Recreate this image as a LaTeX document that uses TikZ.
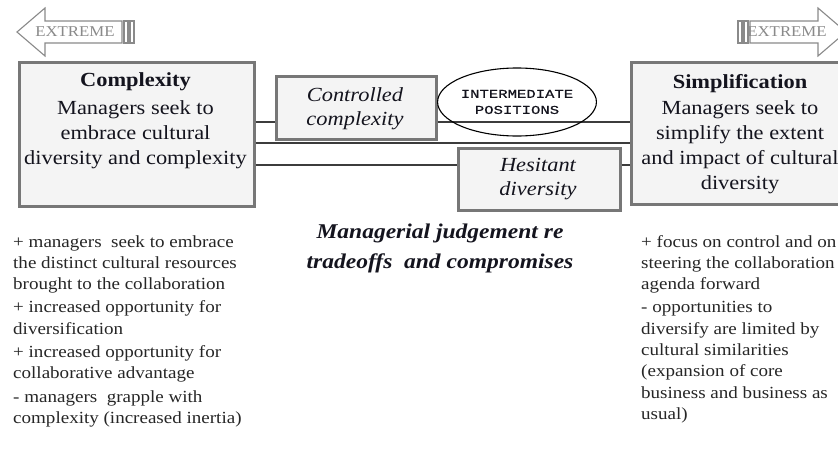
\documentclass[tikz,border=0pt]{standalone}
\usepackage{fontspec}
\setmainfont{Liberation Serif}[FakeStretch=1.12]
\newfontfamily\posfont{Liberation Mono}[FakeStretch=1.3,FakeBold=0.6]
\usetikzlibrary{shapes.geometric}

\definecolor{frame}{HTML}{777777}
\definecolor{boxfill}{HTML}{F4F4F4}
\definecolor{wire}{HTML}{3C3C3C}
\definecolor{ink}{HTML}{14141E}
\definecolor{notes}{HTML}{262626}
\definecolor{arrowgray}{HTML}{8A8A8A}

\begin{document}
\begin{tikzpicture}[x=1pt,y=-1pt,
  panel/.style={draw=frame, line width=2.6pt, fill=boxfill, inner sep=0pt, anchor=north west},
  % multi-line texts are placed by the baseline of their last line
  paneltext/.style={anchor=base, align=center, inner sep=0pt, text=ink,
    font=\fontsize{20}{25}\selectfont},
  italictext/.style={anchor=base, align=center, inner sep=0pt, text=ink,
    font=\fontsize{20}{24}\selectfont\itshape},
  notetext/.style={anchor=base west, align=left, inner sep=0pt, text=notes,
    font=\fontsize{17}{21.3}\selectfont},
  wire/.style={draw=wire, line width=1.6pt},
  extremearrow/.style={draw=arrowgray, line width=1.1pt, fill=white, line join=miter},
  extremelabel/.style={inner sep=0pt, text=arrowgray, font=\fontsize{15}{15}\selectfont}
]
\useasboundingbox (0,0) rectangle (838,450);

% "extreme" arrows at the two ends of the scale
\draw[extremearrow] (17,32) -- (45,8) -- (45,21) -- (122,21) -- (122,43) -- (45,43) -- (45,56) -- cycle;
\draw[extremearrow] (124,21) rectangle (128,43);
\draw[extremearrow] (130,21) rectangle (134,43);
\node[extremelabel] (extl) at (75,32) {EXTREME};

\draw[extremearrow] (750,21) -- (818,21) -- (818,8) -- (846,32) -- (818,56) -- (818,43) -- (750,43) -- cycle;
\draw[extremearrow] (738,21) rectangle (742,43);
\draw[extremearrow] (744,21) rectangle (748,43);
\node[extremelabel] (extr) at (787,32) {EXTREME};

% main boxes
\node[panel, minimum width=235pt, minimum height=144pt] (cx) at (18,61) {};
\node[panel, minimum width=232pt, minimum height=142pt] (simp) at (630,61) {};
\node[panel, minimum width=160pt, minimum height=63pt] (ctrl) at (275,75) {};
\node[panel, minimum width=162pt, minimum height=62pt] (hes) at (457,147) {};

\node[paneltext] (cxt) at (135.5,164) {{\bfseries Complexity}\\[3pt]
  Managers seek to\\ embrace cultural\\ diversity and complexity};
\node[paneltext] (simpt) at (740,189) {{\bfseries Simplification}\\[1pt]
  Managers seek to\\ simplify the extent\\ and impact of cultural\\ diversity};
\node[italictext] (ctrlt) at (355,125) {Controlled\\ complexity};
\node[italictext] (hest) at (538,195) {Hesitant\\ diversity};

% connectors between the positions
\coordinate (r1) at (0,122);
\coordinate (r2) at (0,143);
\coordinate (r3) at (0,165);
\draw[wire] (cx.east |- r1) -- (ctrl.west |- r1);
\draw[wire] (ctrl.east |- r1) -- (simp.west |- r1);
\draw[wire] (cx.east |- r2) -- (simp.west |- r2);
\draw[wire] (cx.east |- r3) -- (hes.west |- r3);
\draw[wire] (hes.east |- r3) -- (simp.west |- r3);

% intermediate positions
\node[draw=black, line width=1.1pt, ellipse, minimum width=148pt, minimum height=68pt,
  inner sep=0pt, align=center, text=ink, font=\posfont\fontsize{12}{16}\selectfont]
  (mid) at (517,102) {INTERMEDIATE\\ POSITIONS};

% managerial judgement
\node[anchor=base, align=center, inner sep=0pt, text=ink,
  font=\fontsize{21}{30}\selectfont\bfseries\itshape] (judge) at (440,268)
  {Managerial judgement re\\ tradeoffs~ and compromises};

% consequences of each extreme
\node[notetext] (left) at (13,423.4) {+ managers~ seek to embrace\\
  the distinct cultural resources\\
  brought to the collaboration\\[2pt]
  + increased opportunity for\\
  diversification\\[2pt]
  + increased opportunity for\\
  collaborative advantage\\[2pt]
  - managers~ grapple with\\
  complexity (increased inertia)};
\node[notetext] (right) at (641,419.4) {+ focus on control and on\\
  steering the collaboration\\
  agenda forward\\[2pt]
  - opportunities to\\
  diversify are limited by\\
  cultural similarities\\
  (expansion of core\\
  business and business as\\
  usual)};
\end{tikzpicture}
\end{document}
